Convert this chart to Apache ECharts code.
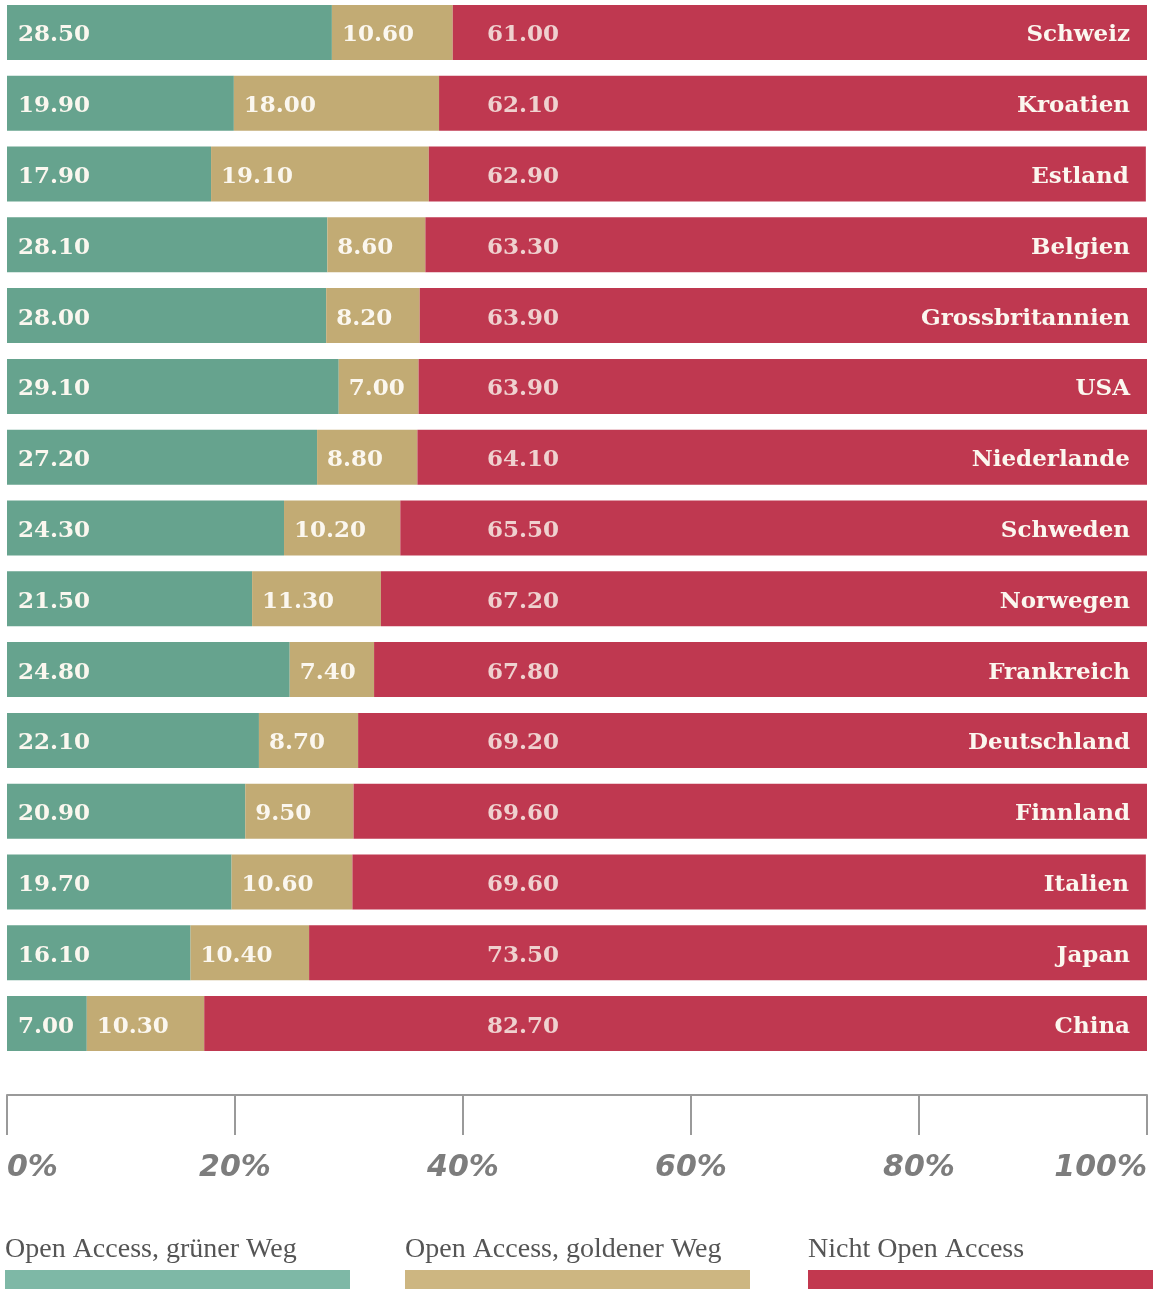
<!DOCTYPE html>
<html>
<head>
<meta charset="utf-8">
<script src="https://cdn.jsdelivr.net/npm/echarts@6/dist/echarts.min.js"></script>
<style>
  html, body { margin: 0; padding: 0; background: #fff; overflow: hidden; }
  /* grid cannot start above 0, so the whole canvas is pulled up a little */
  #chart { width: 1154px; height: 1292px; margin-top: -3px; }
</style>
</head>
<body>
<div id="chart"></div>
<script>
const countries = ['Schweiz', 'Kroatien', 'Estland', 'Belgien', 'Grossbritannien', 'USA', 'Niederlande',
  'Schweden', 'Norwegen', 'Frankreich', 'Deutschland', 'Finnland', 'Italien', 'Japan', 'China']
const green = [28.5, 19.9, 17.9, 28.1, 28.0, 29.1, 27.2, 24.3, 21.5, 24.8, 22.1, 20.9, 19.7, 16.1, 7.0]
const gold = [10.6, 18.0, 19.1, 8.6, 8.2, 7.0, 8.8, 10.2, 11.3, 7.4, 8.7, 9.5, 10.6, 10.4, 10.3]
const red = [61.0, 62.1, 62.9, 63.3, 63.9, 63.9, 64.1, 65.5, 67.2, 67.8, 69.2, 69.6, 69.6, 73.5, 82.7]
const seriesNames = ['Open Access, grüner Weg', 'Open Access, goldener Weg', 'Nicht Open Access']
const xTicks = [0, 20, 40, 60, 80, 100]
// red values are all printed in one column, at this x value
const redLabelAt = 42.1

const barColors = ['#66a38e', '#c2ab74', '#bf3850']
const legendColors = ['#7eb8a6', '#cdb681', '#c2384f']
const labelFont = {
  fontFamily: 'DejaVu Serif', fontWeight: 'bold', fontSize: 23, color: '#fbf7ef', offset: [0, 3]
}

const chart = echarts.init(document.getElementById('chart'))

const valueLabel = (pos, dist) => ({
  show: true,
  position: pos,
  distance: dist,
  ...labelFont,
  formatter: p => p.value.toFixed(2)
})

const legendItems = []
const legendX = [5, 405, 808]
seriesNames.forEach((name, i) => {
  legendItems.push({
    type: 'text', left: legendX[i], top: 1239,
    style: { text: name, font: '28px "Liberation Serif"', fill: '#555' }
  })
  legendItems.push({
    type: 'rect', left: legendX[i], top: 1273,
    shape: { width: 345, height: 25 },
    style: { fill: legendColors[i] }
  })
})

const option = {
  animation: false,
  grid: { left: 7, right: 7, top: 0, height: 1062 },
  xAxis: {
    type: 'value',
    min: 0,
    max: 100,
    interval: 20,
    position: 'bottom',
    offset: 36,
    splitLine: { show: false },
    axisLine: { show: true, lineStyle: { color: '#9a9a9a', width: 2 } },
    axisTick: { show: true, length: 40, lineStyle: { color: '#9a9a9a', width: 2 } },
    axisLabel: {
      margin: 58,
      fontFamily: 'DejaVu Sans',
      fontWeight: 'bold',
      fontStyle: 'italic',
      fontSize: 30,
      color: '#7d7d7d',
      alignMinLabel: 'left',
      alignMaxLabel: 'right',
      formatter: v => xTicks.includes(v) ? v + '%' : ''
    }
  },
  yAxis: {
    type: 'category',
    data: countries,
    inverse: true,
    show: false
  },
  series: [
    {
      name: seriesNames[0], type: 'bar', stack: 'all', barWidth: 55,
      itemStyle: { color: barColors[0] },
      label: valueLabel('insideLeft', 11),
      data: green
    },
    {
      name: seriesNames[1], type: 'bar', stack: 'all', barWidth: 55,
      itemStyle: { color: barColors[1] },
      label: valueLabel('insideLeft', 10),
      data: gold
    },
    {
      name: seriesNames[2], type: 'bar', stack: 'all', barWidth: 55,
      itemStyle: { color: barColors[2] },
      label: {
        show: true, position: 'insideRight', distance: 17, ...labelFont,
        formatter: p => p.name
      },
      data: red
    },
    {
      type: 'scatter',
      symbolSize: 0,
      silent: true,
      z: 10,
      label: {
        show: true, position: 'right', distance: 0, ...labelFont,
        formatter: p => red[p.dataIndex].toFixed(2)
      },
      data: countries.map(c => [redLabelAt, c])
    }
  ],
  graphic: legendItems
}

chart.setOption(option)
</script>
</body>
</html>
